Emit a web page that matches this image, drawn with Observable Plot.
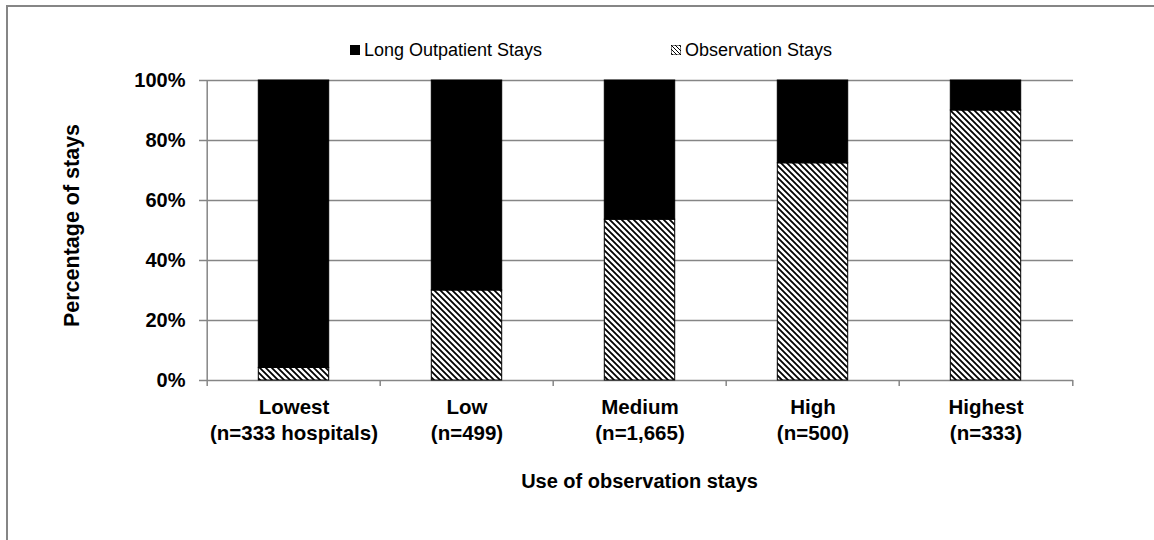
<!DOCTYPE html>
<html><head><meta charset="utf-8">
<script src="https://cdn.jsdelivr.net/npm/d3@7"></script>
<script src="https://cdn.jsdelivr.net/npm/@observablehq/plot@0.6"></script>
<style>
body{margin:0;background:#fff;font-family:"Liberation Sans",Arial,sans-serif;}
#wrap{position:relative;width:1154px;height:540px;overflow:hidden;background:#fff;}
#chart{position:absolute;left:0;top:0;}
#frame{position:absolute;left:6px;top:5px;width:1300px;height:700px;border-left:2px solid #868686;border-top:2px solid #868686;pointer-events:none;}
.item{position:absolute;display:flex;align-items:center;white-space:nowrap;font-size:18px;color:#000;height:20px;}
.sw{width:10px;height:10px;margin-right:4px;box-sizing:border-box;border:1px solid #000;}
</style></head>
<body><div id="wrap"><div id="chart"></div><div id="legend"></div><div id="frame"></div></div>
<script>
const categories = ["Lowest", "Low", "Medium", "High", "Highest"];
const groupSizes = ["(n=333 hospitals)", "(n=499)", "(n=1,665)", "(n=500)", "(n=333)"];
const observationPct = [4.2, 30, 53.6, 72.4, 90];
const longOutpatientPct = [95.8, 70, 46.4, 27.6, 10];
const seriesNames = ["Observation Stays", "Long Outpatient Stays"];
const legendOrder = ["Long Outpatient Stays", "Observation Stays"];
const yTicks = [0, 20, 40, 60, 80, 100];

const rows = [];
categories.forEach((c, i) => {
  rows.push({category: c, series: seriesNames[0], value: observationPct[i]});
  rows.push({category: c, series: seriesNames[1], value: longOutpatientPct[i]});
});

const W = 1154, H = 540, mL = 205, mR = 81, mT = 80, mB = 160;
const bw = (W - mL - mR) / categories.length;
const barW = 71;
const inset = (bw - barW) / 2;

const plot = Plot.plot({
  width: W, height: H,
  marginLeft: mL, marginRight: mR, marginTop: mT, marginBottom: mB,
  style: {background: "transparent", fontFamily: "'Liberation Sans', Arial, sans-serif", color: "#000"},
  x: {domain: categories, padding: 0, axis: null},
  y: {domain: [0, 100], axis: null},
  color: {domain: seriesNames, range: ["url(#hatch)", "#000"]},
  marks: [
    Plot.ruleY(yTicks, {stroke: "#868686", strokeWidth: 1.5}),
    Plot.barY(rows, {x: "category", y: "value", fill: "series", stroke: "#000", strokeWidth: 1, insetLeft: inset, insetRight: inset}),
    Plot.ruleX([categories[0]], {x: d => d, dx: -bw / 2, y1: 0, y2: 100, stroke: "#868686", strokeWidth: 1.5}),
    Plot.ruleX(categories, {x: d => d, dx: -bw / 2, y1: 0, y2: -2, stroke: "#868686", strokeWidth: 1.5}),
    Plot.ruleX([categories[categories.length - 1]], {x: d => d, dx: bw / 2, y1: 0, y2: -2, stroke: "#868686", strokeWidth: 1.5}),
    Plot.axisY({ticks: yTicks, tickSize: 6, tickPadding: 14, stroke: "#868686", strokeWidth: 1.5, fill: "#000",
      tickFormat: d => d + "%", fontSize: 20, fontWeight: "bold", label: null}),
    Plot.axisX({tickSize: 0, tickPadding: 15, fontSize: 20.5, fontWeight: "bold", lineHeight: 1.27, fill: "#000",
      tickFormat: d => d + "\n" + groupSizes[categories.indexOf(d)], label: null}),
    Plot.text(["Percentage of stays"], {text: d => d, frameAnchor: "left", textAnchor: "middle", dx: -133, dy: -5, rotate: -90, fontSize: 21.5, fontWeight: "bold", fill: "#000"}),
    Plot.text(["Use of observation stays"], {text: d => d, frameAnchor: "bottom", dy: 107, fontSize: 20, fontWeight: "bold", fill: "#000"})
  ]
});

// hatch pattern definition
const ns = "http://www.w3.org/2000/svg";
const defs = document.createElementNS(ns, "defs");
defs.innerHTML = `<pattern id="hatch" patternUnits="userSpaceOnUse" width="6" height="6">
  <rect width="6" height="6" fill="#fff"/>
  <path d="M-1,-1L7,7M-4,2L2,8M4,-2L8,2" stroke="#000" stroke-width="1.8"/>
</pattern>
<pattern id="hatchL" patternUnits="userSpaceOnUse" width="4" height="4">
  <rect width="4" height="4" fill="#fff"/>
  <path d="M-1,-1L5,5M-2,2L2,6M2,-2L6,2" stroke="#000" stroke-width="1"/>
</pattern>`;
plot.insertBefore(defs, plot.firstChild);
document.getElementById("chart").appendChild(plot);

// legend (HTML, above the plot area)
const legend = document.getElementById("legend");
const legendPos = {"Long Outpatient Stays": 350, "Observation Stays": 671};
legendOrder.forEach(name => {
  const item = document.createElement("div");
  item.className = "item";
  item.style.left = legendPos[name] + "px";
  item.style.top = "40px";
  const sw = document.createElement("span");
  sw.className = "sw";
  if (name === "Long Outpatient Stays") {
    sw.style.background = "#000";
  } else {
    sw.innerHTML = `<svg width="10" height="10" style="display:block;margin:-1px"><rect width="10" height="10" fill="url(#hatchL)" stroke="#000"/></svg>`;
  }
  item.appendChild(sw);
  const t = document.createElement("span");
  t.textContent = name;
  item.appendChild(t);
  legend.appendChild(item);
});
</script>
</body></html>
